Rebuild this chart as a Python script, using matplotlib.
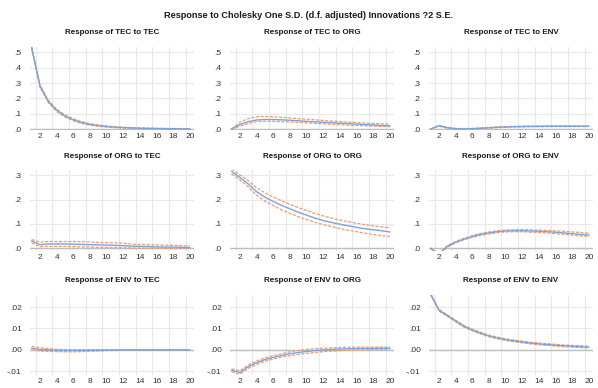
import numpy as np
import matplotlib.pyplot as plt

periods = np.arange(1, 21)

# Row 1: responses of TEC
tec_tec = [0.530, 0.280, 0.180, 0.122, 0.085, 0.060, 0.042, 0.030, 0.022, 0.016,
           0.012, 0.009, 0.007, 0.005, 0.004, 0.003, 0.002, 0.002, 0.001, 0.001]
tec_tec_hi = [0.535, 0.287, 0.188, 0.130, 0.092, 0.067, 0.048, 0.035, 0.026, 0.020,
              0.015, 0.012, 0.009, 0.007, 0.006, 0.005, 0.004, 0.003, 0.003, 0.002]
tec_tec_lo = [0.525, 0.273, 0.172, 0.114, 0.078, 0.054, 0.036, 0.025, 0.018, 0.012,
              0.009, 0.006, 0.005, 0.003, 0.002, 0.001, 0.001, 0.000, 0.000, 0.000]

tec_org = [0.000, 0.030, 0.048, 0.059, 0.062, 0.062, 0.060, 0.057, 0.054, 0.050,
           0.047, 0.044, 0.041, 0.038, 0.035, 0.032, 0.029, 0.026, 0.023, 0.021]
tec_org_hi = [0.000, 0.045, 0.068, 0.080, 0.082, 0.080, 0.076, 0.072, 0.068, 0.064,
              0.060, 0.056, 0.052, 0.048, 0.045, 0.042, 0.039, 0.036, 0.034, 0.032]
tec_org_lo = [0.000, 0.018, 0.036, 0.048, 0.050, 0.050, 0.048, 0.046, 0.043, 0.040,
              0.037, 0.034, 0.031, 0.028, 0.025, 0.023, 0.021, 0.019, 0.017, 0.015]

tec_env = [0.000, 0.021, 0.008, 0.002, 0.001, 0.002, 0.005, 0.008, 0.011, 0.013,
           0.015, 0.016, 0.017, 0.017, 0.018, 0.018, 0.018, 0.018, 0.018, 0.018]
tec_env_hi = [0.000, 0.024, 0.011, 0.004, 0.003, 0.004, 0.007, 0.010, 0.013, 0.015,
              0.017, 0.018, 0.019, 0.019, 0.020, 0.020, 0.020, 0.020, 0.020, 0.020]
tec_env_lo = [0.000, 0.018, 0.006, 0.000, -0.001, 0.000, 0.003, 0.006, 0.009, 0.011,
              0.013, 0.014, 0.015, 0.015, 0.016, 0.016, 0.016, 0.016, 0.016, 0.016]

# Row 2: responses of ORG
org_tec = [0.030, 0.015, 0.018, 0.018, 0.018, 0.017, 0.016, 0.015, 0.014, 0.013,
           0.012, 0.011, 0.009, 0.008, 0.007, 0.006, 0.005, 0.005, 0.004, 0.003]
org_tec_hi = [0.036, 0.025, 0.028, 0.028, 0.028, 0.028, 0.027, 0.026, 0.024, 0.023,
              0.022, 0.021, 0.017, 0.016, 0.015, 0.014, 0.013, 0.012, 0.011, 0.010]
org_tec_lo = [0.022, 0.007, 0.008, 0.008, 0.008, 0.007, 0.006, 0.005, 0.004, 0.003,
              0.003, 0.002, 0.001, 0.001, 0.000, 0.000, 0.000, -0.001, -0.001, -0.001]

org_org = [0.315, 0.290, 0.264, 0.232, 0.210, 0.192, 0.176, 0.162, 0.148, 0.136,
           0.124, 0.114, 0.106, 0.099, 0.092, 0.086, 0.080, 0.076, 0.072, 0.067]
org_org_hi = [0.325, 0.300, 0.278, 0.248, 0.228, 0.210, 0.195, 0.180, 0.167, 0.155,
              0.143, 0.133, 0.124, 0.116, 0.109, 0.103, 0.097, 0.092, 0.088, 0.084]
org_org_lo = [0.305, 0.280, 0.252, 0.218, 0.194, 0.175, 0.158, 0.143, 0.130, 0.118,
              0.107, 0.097, 0.089, 0.081, 0.074, 0.068, 0.062, 0.057, 0.052, 0.048]

org_env = [0.000, -0.025, 0.008, 0.025, 0.038, 0.048, 0.057, 0.063, 0.068, 0.071,
           0.072, 0.072, 0.071, 0.070, 0.068, 0.066, 0.063, 0.060, 0.057, 0.054]
org_env_hi = [0.000, -0.022, 0.011, 0.028, 0.041, 0.052, 0.061, 0.067, 0.072, 0.075,
              0.076, 0.077, 0.076, 0.075, 0.074, 0.072, 0.070, 0.067, 0.065, 0.062]
org_env_lo = [0.000, -0.028, 0.005, 0.022, 0.035, 0.045, 0.053, 0.059, 0.064, 0.067,
              0.068, 0.068, 0.066, 0.065, 0.063, 0.060, 0.057, 0.054, 0.051, 0.048]

# Row 3: responses of ENV
env_tec = [0.0008, 0.0002, 0.0000, -0.0002, -0.0003, -0.0003, -0.0003, -0.0002, -0.0002, -0.0001,
           -0.0001, 0.0000, 0.0000, 0.0000, 0.0000, 0.0000, 0.0000, 0.0000, 0.0000, 0.0000]
env_tec_hi = [0.0017, 0.0010, 0.0006, 0.0003, 0.0002, 0.0001, 0.0001, 0.0001, 0.0001, 0.0001,
              0.0001, 0.0001, 0.0001, 0.0001, 0.0001, 0.0001, 0.0001, 0.0001, 0.0001, 0.0001]
env_tec_lo = [0.0000, -0.0005, -0.0007, -0.0008, -0.0009, -0.0009, -0.0008, -0.0006, -0.0005, -0.0003,
              -0.0002, -0.0001, -0.0001, -0.0001, 0.0000, 0.0000, 0.0000, 0.0000, 0.0000, 0.0000]

env_org = [-0.0095, -0.0105, -0.0078, -0.0060, -0.0045, -0.0035, -0.0026, -0.0018, -0.0012, -0.0007,
           -0.0003, 0.0000, 0.0002, 0.0004, 0.0005, 0.0006, 0.0007, 0.0007, 0.0008, 0.0008]
env_org_hi = [-0.0088, -0.0097, -0.0070, -0.0052, -0.0037, -0.0027, -0.0018, -0.0009, -0.0003, 0.0002,
              0.0006, 0.0008, 0.0010, 0.0011, 0.0012, 0.0013, 0.0013, 0.0013, 0.0013, 0.0013]
env_org_lo = [-0.0102, -0.0113, -0.0086, -0.0068, -0.0053, -0.0043, -0.0034, -0.0027, -0.0021, -0.0016,
              -0.0012, -0.0008, -0.0006, -0.0004, -0.0002, -0.0001, 0.0000, 0.0001, 0.0002, 0.0003]

env_env = [0.0260, 0.0185, 0.0160, 0.0135, 0.0110, 0.0093, 0.0078, 0.0065, 0.0056, 0.0048,
           0.0042, 0.0037, 0.0032, 0.0028, 0.0025, 0.0022, 0.0019, 0.0017, 0.0015, 0.0013]
env_env_hi = [0.0263, 0.0189, 0.0164, 0.0139, 0.0114, 0.0097, 0.0082, 0.0069, 0.0060, 0.0052,
              0.0046, 0.0041, 0.0036, 0.0032, 0.0029, 0.0026, 0.0023, 0.0021, 0.0019, 0.0017]
env_env_lo = [0.0257, 0.0181, 0.0156, 0.0131, 0.0106, 0.0089, 0.0074, 0.0061, 0.0052, 0.0044,
              0.0038, 0.0033, 0.0028, 0.0024, 0.0021, 0.0018, 0.0015, 0.0013, 0.0011, 0.0009]

panels = [
    ('Response of TEC to TEC', tec_tec, tec_tec_hi, tec_tec_lo),
    ('Response of TEC to ORG', tec_org, tec_org_hi, tec_org_lo),
    ('Response of TEC to ENV', tec_env, tec_env_hi, tec_env_lo),
    ('Response of ORG to TEC', org_tec, org_tec_hi, org_tec_lo),
    ('Response of ORG to ORG', org_org, org_org_hi, org_org_lo),
    ('Response of ORG to ENV', org_env, org_env_hi, org_env_lo),
    ('Response of ENV to TEC', env_tec, env_tec_hi, env_tec_lo),
    ('Response of ENV to ORG', env_org, env_org_hi, env_org_lo),
    ('Response of ENV to ENV', env_env, env_env_hi, env_env_lo),
]

row_ylim = [(-0.0065, 0.535), (-0.011, 0.321), (-0.0117, 0.0256)]
row_yticks = [[0, .1, .2, .3, .4, .5], [0, .1, .2, .3], [-.01, 0, .01, .02]]
row_ylabels = [['.0', '.1', '.2', '.3', '.4', '.5'], ['.0', '.1', '.2', '.3'],
               ['-.01', '.00', '.01', '.02']]
xticks = np.arange(2, 21, 2)

plt.rcParams['font.family'] = ['Liberation Sans', 'DejaVu Sans']

W, H = 598, 388
fig = plt.figure(figsize=(W / 100, H / 100), dpi=100)
fig.text(309 / W, 1 - 15.5 / H, 'Response to Cholesky One S.D. (d.f. adjusted) Innovations ?2 S.E.',
         ha='center', va='center', fontsize=6.6, color='#1a1a1a', weight='bold')

col_left = [30, 230, 429]
row_top = [47, 170, 295]
row_bot = [130, 251, 375]
blue = '#7aa3dd'
orange = '#f39a6b'

for i, (title, resp, hi, lo) in enumerate(panels):
    r, c = divmod(i, 3)
    ax = fig.add_axes([col_left[c] / W, 1 - row_bot[r] / H, 164 / W, (row_bot[r] - row_top[r]) / H])
    ax.set_xlim(0.8, 20.5)
    ax.set_ylim(*row_ylim[r])
    for xg in np.arange(1.5, 20, 2):
        ax.axvline(xg, color='#e8e8e8', lw=0.8, zorder=0)
    for yg in row_yticks[r]:
        ax.axhline(yg, color='#e8e8e8', lw=0.8, zorder=0)
    ax.axhline(0, color='#bdbdbd', lw=1.0, zorder=1)
    ax.plot(periods, resp, color=blue, lw=1.0, zorder=3)
    ax.plot(periods, hi, color=orange, lw=0.9, ls=(0, (2.5, 1.2)), zorder=2)
    ax.plot(periods, lo, color=orange, lw=0.9, ls=(0, (2.5, 1.2)), zorder=2)
    ax.set_xticks(xticks)
    ax.set_xticklabels([str(v) for v in xticks])
    ax.set_yticks(row_yticks[r])
    ax.set_yticklabels(row_ylabels[r])
    ax.tick_params(length=0, labelsize=6, colors='#333333', pad=2.5)
    ax.tick_params(axis='y', pad=6)
    for s in ax.spines.values():
        s.set_visible(False)
    ax.set_title(title, fontsize=5.8, weight='bold', color='#1a1a1a', pad=9)

fig.savefig('out.png', dpi=100)
